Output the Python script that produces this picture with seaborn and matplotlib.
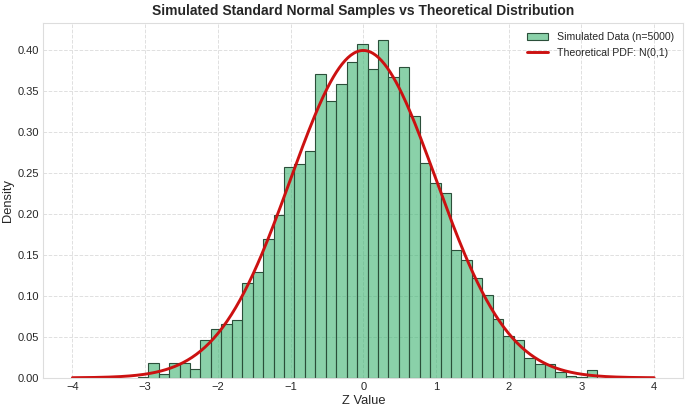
import numpy as np
import pandas as pd
import seaborn as sns
import matplotlib.pyplot as plt

# histogram (density per bin)
bin_lo = -3.100
bin_hi = 3.935
n_bins = 49
density = [0.0014, 0.0175, 0.005, 0.0175, 0.0175, 0.0106, 0.0455, 0.059, 0.065, 0.070,
           0.116, 0.129, 0.169, 0.198, 0.257, 0.260, 0.277, 0.370, 0.337, 0.358,
           0.385, 0.407, 0.376, 0.412, 0.366, 0.379, 0.319, 0.262, 0.238, 0.225,
           0.156, 0.143, 0.122, 0.101, 0.072, 0.051, 0.046, 0.024, 0.0167, 0.0167,
           0.0069, 0.0021, 0.0014, 0.0097, 0.0, 0.0, 0.0, 0.0, 0.0014]
x_ticks = [-4, -3, -2, -1, 0, 1, 2, 3, 4]
y_ticks = [0.00, 0.05, 0.10, 0.15, 0.20, 0.25, 0.30, 0.35, 0.40]

edges = np.linspace(bin_lo, bin_hi, n_bins + 1)
df = pd.DataFrame({'z': (edges[:-1] + edges[1:]) / 2, 'dens': density})

# theoretical N(0,1) curve
xs = np.linspace(-4, 4, 400)
pdf = np.exp(-xs**2 / 2) / np.sqrt(2 * np.pi)

sns.set_style('whitegrid', {'grid.linestyle': '--', 'grid.color': '#e0e0e0',
                            'axes.edgecolor': '#dddddd'})
plt.rcParams['font.family'] = ['Liberation Sans', 'DejaVu Sans']
plt.rcParams['grid.linewidth'] = 0.7

fig, ax = plt.subplots(figsize=(6.88, 4.08), dpi=100)
sns.histplot(data=df, x='z', weights='dens', bins=n_bins, binrange=(bin_lo, bin_hi),
             stat='count', color='mediumseagreen', alpha=0.6, edgecolor='#2b4f3a',
             linewidth=0.8, label='Simulated Data (n=5000)', ax=ax)
sns.lineplot(x=xs, y=pdf, color='#cc1111', linewidth=2.1,
             label='Theoretical PDF: N(0,1)', ax=ax)

ax.set_xticks(x_ticks)
ax.set_yticks(y_ticks)
ax.set_yticklabels([f'{v:.2f}' for v in y_ticks])
ax.tick_params(labelsize=8, length=0, pad=3)
ax.set_title('Simulated Standard Normal Samples vs Theoretical Distribution',
             fontsize=10, fontweight='bold', pad=6)
ax.set_xlabel('Z Value', fontsize=9.3, labelpad=2)
ax.set_ylabel('Density', fontsize=9.3, labelpad=3)

handles, labels = ax.get_legend_handles_labels()
order = [labels.index('Simulated Data (n=5000)'), labels.index('Theoretical PDF: N(0,1)')]
ax.legend([handles[i] for i in order], [labels[i] for i in order],
          loc='upper right', fontsize=7.6, frameon=False)

fig.subplots_adjust(left=0.063, right=0.993, bottom=0.074, top=0.944)
fig.savefig('out.png', dpi=100)
